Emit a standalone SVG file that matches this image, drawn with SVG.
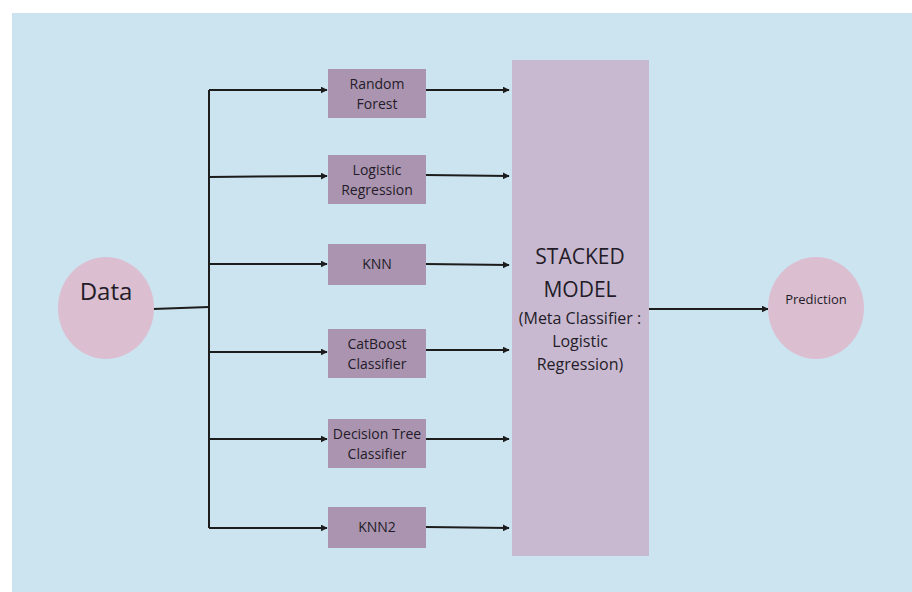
<svg xmlns="http://www.w3.org/2000/svg" width="912" height="592" viewBox="0 0 912 592">
<defs>
<marker id="ah" viewBox="0 0 10 10" refX="9" refY="5" markerWidth="7" markerHeight="7" markerUnits="userSpaceOnUse" orient="auto">
<path d="M0,0 L10,5 L0,10 z" fill="#1c1c1c"/>
</marker>
<style>
.bg{fill:#cce3f0}
.box{fill:#ab94b0}
.stack{fill:#c9b9d0}
.circ{fill:#dbbfd1}
.t{font-family:"Open Sans","Noto Sans","Liberation Sans",sans-serif;fill:#231c28;text-anchor:middle;font-weight:500}
.bt{font-size:14px}
.ln{stroke:#1c1c1c;stroke-width:2;fill:none}
.ar{stroke:#1c1c1c;stroke-width:2;fill:none;marker-end:url(#ah)}
</style>
</defs>
<rect x="0" y="0" width="912" height="592" fill="#ffffff"/>
<rect class="bg" x="12" y="13" width="900" height="579"/>

<g id="connectors">
<path class="ln" d="M153,309 L209,307"/>
<path class="ln" d="M209,90 L209,528"/>
<path class="ar" d="M209,90 L327,90"/>
<path class="ar" d="M209,177 L327,176"/>
<path class="ar" d="M209,264 L327,264"/>
<path class="ar" d="M209,352 L327,352"/>
<path class="ar" d="M209,439 L327,439"/>
<path class="ar" d="M209,528 L327,528"/>
<path class="ar" d="M426,90 L509,90"/>
<path class="ar" d="M426,175 L509,176"/>
<path class="ar" d="M426,264 L509,265"/>
<path class="ar" d="M426,350 L509,350"/>
<path class="ar" d="M426,439 L509,439"/>
<path class="ar" d="M426,527 L509,528"/>
<path class="ar" d="M649,309 L768,309"/>
</g>

<g id="data">
<ellipse class="circ" cx="106" cy="308" rx="48" ry="51"/>
<text class="t" x="106" y="300" font-size="24">Data</text>
</g>

<g id="random-forest">
<rect class="box" x="328" y="69" width="98" height="49"/>
<text class="t bt" x="377" y="89">Random</text>
<text class="t bt" x="377" y="109">Forest</text>
</g>

<g id="logistic-regression">
<rect class="box" x="328" y="155" width="98" height="49"/>
<text class="t bt" x="377" y="175">Logistic</text>
<text class="t bt" x="377" y="195">Regression</text>
</g>

<g id="knn">
<rect class="box" x="328" y="244" width="98" height="41"/>
<text class="t bt" x="377" y="269">KNN</text>
</g>

<g id="catboost">
<rect class="box" x="328" y="329" width="98" height="49"/>
<text class="t bt" x="377" y="349">CatBoost</text>
<text class="t bt" x="377" y="369">Classifier</text>
</g>

<g id="decision-tree">
<rect class="box" x="328" y="419" width="98" height="49"/>
<text class="t bt" x="377" y="439" font-size="13.5">Decision Tree</text>
<text class="t bt" x="377" y="459">Classifier</text>
</g>

<g id="knn2">
<rect class="box" x="328" y="507" width="98" height="41"/>
<text class="t bt" x="377" y="532">KNN2</text>
</g>

<g id="stacked-model">
<rect class="stack" x="512" y="60" width="137" height="496"/>
<text class="t" x="580" y="264" font-size="21">STACKED</text>
<text class="t" x="580" y="297" font-size="21">MODEL</text>
<text class="t" x="580" y="324" font-size="16">(Meta Classifier :</text>
<text class="t" x="580" y="347" font-size="16">Logistic</text>
<text class="t" x="580" y="370" font-size="16">Regression)</text>
</g>

<g id="prediction">
<ellipse class="circ" cx="816" cy="308" rx="48" ry="51"/>
<text class="t" x="816" y="304" font-size="13">Prediction</text>
</g>
</svg>
